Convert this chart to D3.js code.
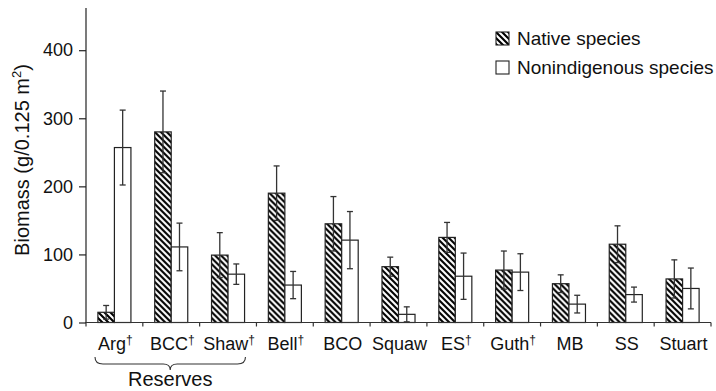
<!DOCTYPE html>
<html>
<head>
<meta charset="utf-8">
<script src="https://cdn.jsdelivr.net/npm/d3@7"></script>
<style>
  html, body { margin: 0; padding: 0; background: #fff; }
  svg { display: block; font-family: "Liberation Sans", Arial, Helvetica, sans-serif; }
</style>
</head>
<body>
<svg id="chart" width="716" height="391"></svg>
<script>
// Sites (the dagger marks sites flagged in the study)
const sites = ["Arg", "BCC", "Shaw", "Bell", "BCO", "Squaw", "ES", "Guth", "MB", "SS", "Stuart"];
const daggers = [true, true, true, true, false, false, true, true, false, false, false];

const seriesNames = ["Native species", "Nonindigenous species"];

// Mean biomass (g / 0.125 m²) and standard error for each site
const nativeMean = [15, 280, 99, 190, 145, 82, 125, 77, 57, 115, 64];
const nativeErr  = [10, 60, 33, 40, 40, 14, 22, 28, 13, 27, 28];
const nonMean    = [257, 111, 71, 55, 121, 12, 68, 74, 27, 41, 50];
const nonErr     = [55, 35, 15, 20, 42, 11, 34, 27, 13, 11, 30];

const yTicks = [0, 100, 200, 300, 400];

const svg = d3.select("#chart");

const plotLeft = 86, plotRight = 711, plotTop = 8, plotBase = 322.5;

const x = d3.scaleBand().domain(sites).range([plotLeft, plotRight]).padding(0);
const xs = d3.scaleBand().domain(["native", "non"]).range([0, x.bandwidth()])
  .paddingInner(0).paddingOuter(0.72);
const y = d3.scaleLinear().domain([0, 462]).range([plotBase, plotTop]);

// Diagonal hatch for native species bars
const P = 6;
const defs = svg.append("defs");
const pat = defs.append("pattern")
  .attr("id", "hatch")
  .attr("patternUnits", "userSpaceOnUse")
  .attr("width", P).attr("height", P);
pat.append("rect").attr("width", P).attr("height", P).attr("fill", "#fff");
pat.append("path")
  .attr("d", `M-1,-1 L${P + 1},${P + 1} M-1,${P - 1} L1,${P + 1} M${P - 1},-1 L${P + 1},1`)
  .attr("stroke", "#000").attr("stroke-width", 2.1);

const rows = sites.map((s, i) => ({
  site: s,
  bars: [
    { key: "native", v: nativeMean[i], e: nativeErr[i] },
    { key: "non", v: nonMean[i], e: nonErr[i] }
  ]
}));

const g = svg.append("g");

const groups = g.selectAll("g.site").data(rows).enter().append("g")
  .attr("class", "site")
  .attr("transform", d => `translate(${x(d.site)},0)`);

groups.selectAll("rect").data(d => d.bars).enter().append("rect")
  .attr("x", d => xs(d.key))
  .attr("width", xs.bandwidth())
  .attr("y", d => y(d.v))
  .attr("height", d => plotBase - y(d.v))
  .attr("fill", d => d.key === "native" ? "url(#hatch)" : "#fff")
  .attr("stroke", "#222")
  .attr("stroke-width", 1.2);

// Error bars
const capW = 6;
const eb = groups.selectAll("g.err").data(d => d.bars).enter().append("g")
  .attr("class", "err")
  .attr("stroke", "#333")
  .attr("stroke-width", 1.3);
eb.append("line")
  .attr("x1", d => xs(d.key) + xs.bandwidth() / 2)
  .attr("x2", d => xs(d.key) + xs.bandwidth() / 2)
  .attr("y1", d => y(Math.max(0, d.v - d.e)))
  .attr("y2", d => y(d.v + d.e));
eb.append("line")
  .attr("x1", d => xs(d.key) + xs.bandwidth() / 2 - capW / 2)
  .attr("x2", d => xs(d.key) + xs.bandwidth() / 2 + capW / 2)
  .attr("y1", d => y(d.v + d.e))
  .attr("y2", d => y(d.v + d.e));
eb.append("line")
  .attr("x1", d => xs(d.key) + xs.bandwidth() / 2 - capW / 2)
  .attr("x2", d => xs(d.key) + xs.bandwidth() / 2 + capW / 2)
  .attr("y1", d => y(Math.max(0, d.v - d.e)))
  .attr("y2", d => y(Math.max(0, d.v - d.e)));

// Y axis
const yAxis = svg.append("g")
  .attr("transform", `translate(${plotLeft},0)`)
  .call(d3.axisLeft(y).tickValues(yTicks).tickSize(7).tickSizeOuter(0).tickPadding(6));
yAxis.select(".domain").attr("d", `M0,${plotTop}V${plotBase}`).attr("stroke", "#222").attr("stroke-width", 1.2);
yAxis.selectAll(".tick line").attr("stroke", "#222").attr("stroke-width", 1.2);
yAxis.selectAll(".tick text").attr("font-size", 18).attr("fill", "#111")
  .attr("font-family", "Liberation Sans, Arial, sans-serif");

// X axis: ticks at group boundaries
const bounds = sites.map(s => x(s)).concat([plotRight]);
const xAxis = svg.append("g");
xAxis.append("line")
  .attr("x1", plotLeft - 1).attr("x2", plotRight)
  .attr("y1", plotBase).attr("y2", plotBase)
  .attr("stroke", "#333").attr("stroke-width", 1.2);
xAxis.selectAll("line.tk").data(bounds).enter().append("line")
  .attr("class", "tk")
  .attr("x1", d => d).attr("x2", d => d)
  .attr("y1", plotBase).attr("y2", plotBase + 4)
  .attr("stroke", "#333").attr("stroke-width", 1.2);

const lab = xAxis.selectAll("text.site").data(sites).enter().append("text")
  .attr("class", "site")
  .attr("x", d => x(d) + x.bandwidth() / 2 + 1)
  .attr("y", 350)
  .attr("text-anchor", "middle")
  .attr("font-size", 18)
  .attr("fill", "#111");
lab.append("tspan").text(d => d);
lab.filter((d, i) => daggers[i]).append("tspan")
  .attr("font-size", 12)
  .attr("dy", -6)
  .text("†");

// Brace grouping the reserve sites
const bx0 = x("Arg") + 9, bx1 = x("Shaw") + x.bandwidth() - 11;
const bm = (bx0 + bx1) / 2;
svg.append("path")
  .attr("d", `M${bx0},357 Q${bx0},364 ${bx0 + 8},364 L${bm - 7},364 Q${bm},364 ${bm},370 Q${bm},364 ${bm + 7},364 L${bx1 - 8},364 Q${bx1},364 ${bx1},357`)
  .attr("fill", "none").attr("stroke", "#333").attr("stroke-width", 1.1);
svg.append("text")
  .attr("x", bm).attr("y", 386)
  .attr("text-anchor", "middle")
  .attr("font-size", 20)
  .attr("fill", "#111")
  .text("Reserves");

// Y axis title
const yt = svg.append("text")
  .attr("transform", `translate(29,160) rotate(-90)`)
  .attr("text-anchor", "middle")
  .attr("font-size", 20)
  .attr("fill", "#111");
yt.append("tspan").text("Biomass (g/0.125 m");
yt.append("tspan").attr("font-size", 13).attr("dy", -8).text("2");
yt.append("tspan").attr("dy", 8).text(")");

// Legend
const legend = svg.append("g").attr("transform", "translate(496,0)");
const legItems = legend.selectAll("g").data(seriesNames).enter().append("g")
  .attr("transform", (d, i) => `translate(0,${32 + i * 29})`);
legItems.append("rect")
  .attr("width", 13).attr("height", 13)
  .attr("fill", (d, i) => i === 0 ? "url(#hatch)" : "#fff")
  .attr("stroke", "#222").attr("stroke-width", 1.1);
legItems.append("text")
  .attr("x", 21).attr("y", 13)
  .attr("font-size", 19)
  .attr("fill", "#111")
  .text(d => d);
</script>
</body>
</html>
